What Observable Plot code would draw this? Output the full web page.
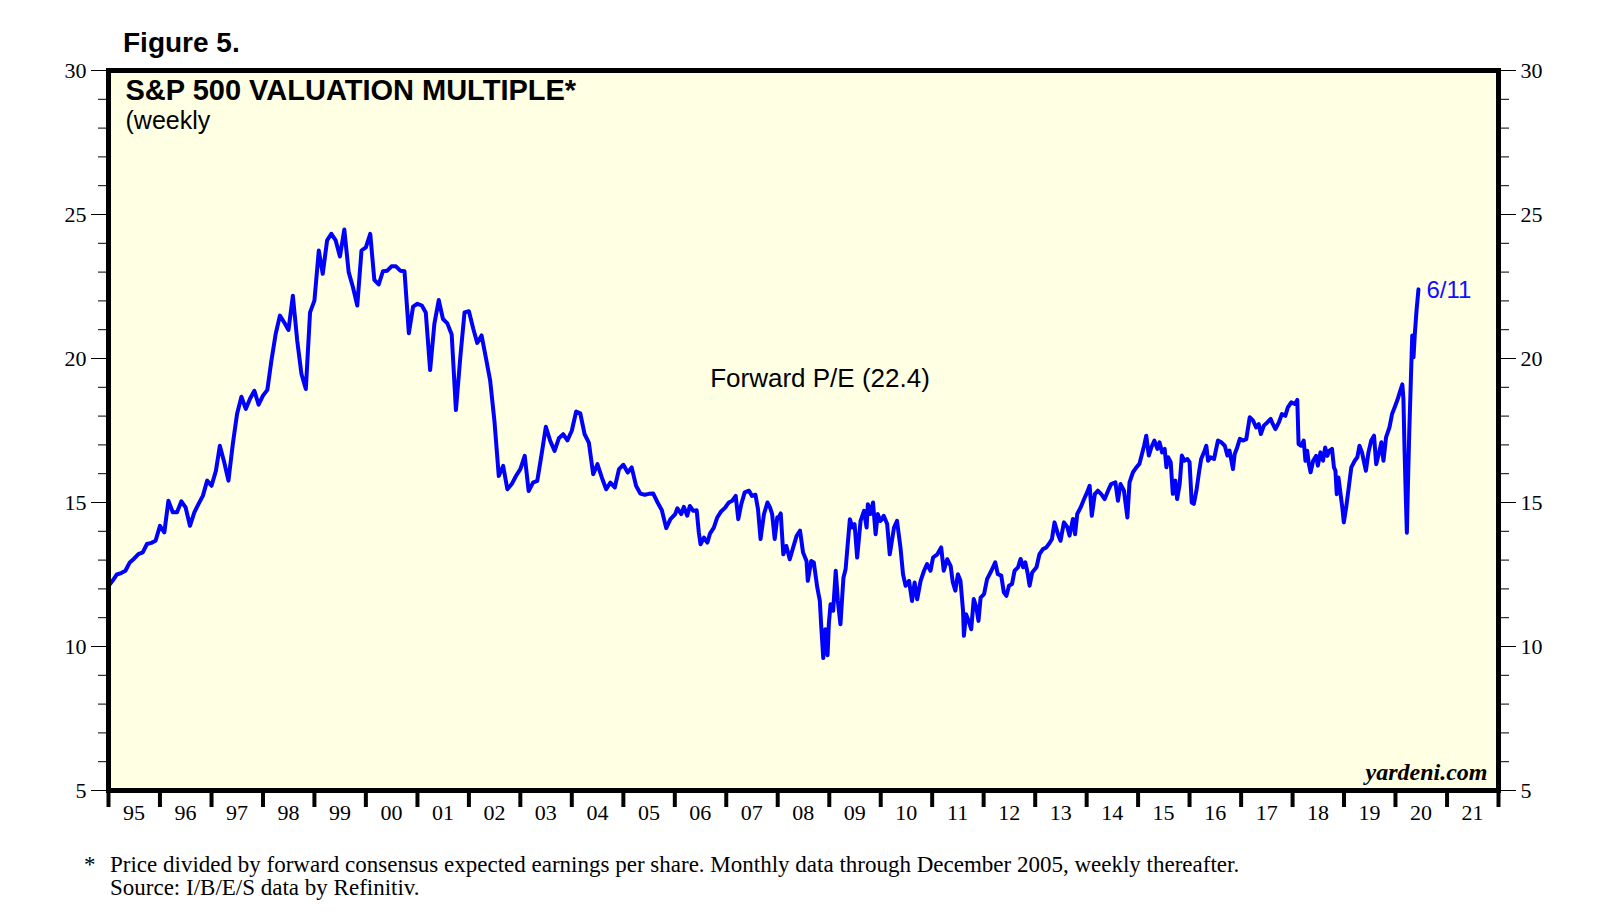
<!DOCTYPE html>
<html><head><meta charset="utf-8">
<script src="https://cdn.jsdelivr.net/npm/d3@7"></script>
<script src="https://cdn.jsdelivr.net/npm/@observablehq/plot@0.6"></script>
<style>
body{margin:0;background:#fff;}
#wrap{position:relative;width:1615px;height:920px;overflow:hidden;}
#fig{position:absolute;left:123px;top:27px;font:bold 28px "Liberation Sans",Arial,sans-serif;line-height:32px;color:#000;}
#chart{position:absolute;left:0;top:60px;}
#note{position:absolute;left:84px;top:853px;font:23px "Liberation Serif","Times New Roman",serif;line-height:23px;color:#000;}
#note .star{position:absolute;left:0;top:0;}
#note .body{padding-left:26px;white-space:nowrap;}
</style></head>
<body><div id="wrap">
<div id="fig">Figure 5.</div>
<div id="chart"></div>
<div id="note"><span class="star">*</span><div class="body">Price divided by forward consensus expected earnings per share. Monthly data through December 2005, weekly thereafter.<br>Source: I/B/E/S data by Refinitiv.</div></div>
</div>
<script>
// ---- Data: monthly forward P/E, Jan 1995 – Dec 2005 ----
const monthly1995 = [12.1,12.3,12.5,12.55,12.63,12.92,13.05,13.21,13.27,13.56,13.6,13.67];
const monthly1996 = [14.19,13.96,15.06,14.66,14.66,15.04,14.83,14.19,14.66,14.95,15.24,15.76];
const monthly1997 = [15.58,16.1,16.97,16.4,15.76,17.03,18.07,18.67,18.25,18.6,18.88,18.4];
const monthly1998 = [18.71,18.91,19.9,20.85,21.49,21.25,20.99,22.18,20.62,19.46,18.94,21.6];
const monthly1999 = [22.01,23.75,22.94,24.1,24.33,24.1,23.54,24.48,23.0,22.48,21.84,23.75];
const monthly2000 = [23.86,24.33,22.73,22.57,23.03,23.05,23.2,23.2,23.05,23.03,20.88,21.8];
const monthly2001 = [21.9,21.84,21.6,19.6,21.2,22.03,21.37,21.22,20.83,18.21,20.04,21.6];
const monthly2002 = [21.64,21.03,20.54,20.8,20.04,19.23,17.84,15.92,16.27,15.46,15.64,15.92];
const monthly2003 = [16.16,16.62,15.4,15.69,15.75,16.68,17.63,17.14,16.79,17.23,17.37,17.16];
const monthly2004 = [17.49,18.16,18.1,17.37,17.08,15.98,16.33,15.87,15.46,15.69,15.52,16.16];
const monthly2005 = [16.31,16.04,16.22,15.58,15.31,15.27,15.3,15.31,15.0,14.73,14.11,14.42];

// ---- Data: weekly readings from 2006, [months into year, P/E] ----
const weekly2006 = [[0.1,14.6],[0.6,14.8],[1.5,14.6],[2.1,14.85],[2.9,14.54],[3.5,14.88],[4.3,14.71],[5.1,14.73],[5.6,13.96],[6.0,13.55],[6.8,13.78],[7.6,13.61],[8.2,13.92],[9.1,14.13],[9.9,14.48],[10.8,14.69],[11.8,14.83]];
const weekly2007 = [[0.1,14.9],[0.6,15.0],[1.4,15.06],[2.2,15.23],[2.8,14.42],[3.5,14.94],[4.3,15.35],[5.3,15.41],[6.0,15.23],[6.8,15.27],[7.4,14.77],[8.0,13.73],[8.8,14.6],[9.6,15.0],[10.2,14.83],[10.7,14.6],[11.3,13.73],[11.9,14.48]];
const weekly2008 = [[0.3,14.5],[0.7,14.62],[1.3,13.2],[2.0,13.49],[2.8,13.03],[3.6,13.44],[4.4,13.84],[5.2,14.02],[5.9,13.26],[6.7,12.97],[7.0,12.28],[7.8,12.97],[8.4,12.92],[9.2,12.05],[9.8,11.58],[10.1,10.77],[10.6,9.6],[11.1,10.6],[11.6,9.7],[11.9,10.8]];
const weekly2009 = [[0.3,11.47],[0.9,11.24],[1.5,12.63],[2.0,11.58],[2.6,10.77],[3.3,12.39],[3.8,12.68],[4.2,13.38],[4.8,14.42],[5.4,14.13],[5.9,14.25],[6.5,13.09],[7.3,14.36],[8.1,14.71],[8.7,14.13],[9.0,14.94],[9.6,14.6],[10.2,15.0],[10.8,13.9],[11.3,14.6],[11.9,14.36]];
const weekly2010 = [[0.2,14.4],[0.7,14.54],[1.5,14.25],[2.1,13.2],[3.1,14.13],[3.8,14.36],[4.6,13.44],[5.2,12.51],[5.8,12.11],[6.6,12.28],[7.3,11.58],[7.9,12.22],[8.5,11.64],[9.3,12.28],[10.1,12.63],[10.8,12.86],[11.6,12.63]];
const weekly2011 = [[0.2,13.09],[1.2,13.2],[2.1,13.44],[2.7,12.63],[3.5,13.03],[4.3,12.8],[4.8,12.23],[5.4,11.94],[6.0,12.51],[6.6,12.28],[7.2,11.24],[7.4,10.37],[7.9,11.12],[8.5,10.89],[9.1,10.6],[9.7,11.65],[10.3,11.36],[10.8,10.89],[11.3,11.7]];
const weekly2012 = [[0.1,11.82],[0.8,12.34],[1.8,12.63],[2.7,12.92],[3.3,12.51],[4.1,12.46],[4.7,11.88],[5.3,11.76],[5.9,12.11],[6.6,12.17],[7.2,12.63],[8.0,12.75],[8.6,13.04],[9.2,12.75],[9.7,12.92],[10.2,12.57],[10.7,12.11],[11.3,12.57]];
const weekly2013 = [[0.3,12.75],[1.0,13.21],[1.8,13.38],[2.6,13.44],[3.4,13.61],[3.9,13.73],[4.5,14.31],[5.3,13.9],[5.9,13.67],[6.7,14.31],[7.5,14.14],[8.0,13.85],[8.8,14.43],[9.3,13.9],[9.8,14.6],[10.6,14.83],[11.4,15.12]];
const weekly2014 = [[0.1,15.35],[0.7,15.58],[1.2,14.54],[1.9,15.29],[2.6,15.41],[3.4,15.29],[4.2,15.12],[5.0,15.41],[5.7,15.64],[6.7,15.7],[7.3,15.06],[7.9,15.64],[8.7,15.41],[9.5,14.48],[10.0,15.7],[10.8,16.05],[11.6,16.22]];
const weekly2015 = [[0.3,16.34],[0.9,16.68],[1.4,16.97],[1.9,17.32],[2.5,16.63],[3.1,16.92],[3.8,17.15],[4.5,16.86],[5.0,17.09],[5.6,16.74],[6.2,16.86],[6.6,16.22],[7.0,16.57],[7.6,16.4],[8.1,15.3],[8.7,15.76],[9.1,15.12],[9.7,15.64],[10.2,16.63],[10.8,16.45],[11.5,16.51]];
const weekly2016 = [[0.0,16.4],[0.5,15.0],[1.0,14.95],[1.6,15.41],[2.2,16.05],[2.7,16.51],[3.5,16.8],[3.9,16.97],[4.3,16.45],[4.9,16.57],[5.7,16.51],[6.6,17.15],[7.4,17.09],[8.2,16.97],[8.8,16.63],[9.3,16.8],[10.1,16.16],[10.5,16.68],[11.1,16.92],[11.7,17.21]];
const weekly2017 = [[0.4,17.15],[1.2,17.2],[2.0,17.96],[2.8,17.84],[3.5,17.61],[4.1,17.72],[4.6,17.38],[5.3,17.67],[6.1,17.78],[6.9,17.9],[7.4,17.72],[8.0,17.55],[8.8,17.78],[9.5,18.07],[10.3,18.01],[10.9,18.3],[11.7,18.48]];
const weekly2018 = [[0.5,18.42],[1.1,18.56],[1.4,17.03],[2.0,16.97],[2.6,17.15],[3.0,16.45],[3.4,16.8],[3.8,16.33],[4.2,16.05],[4.8,16.45],[5.5,16.62],[5.9,16.28],[6.5,16.74],[7.1,16.45],[7.6,16.91],[8.1,16.62],[8.6,16.8],[9.2,16.86],[9.65,16.22],[10.0,16.1],[10.3,15.29],[10.7,15.87],[11.2,15.29],[11.6,14.83],[11.95,14.31]];
const weekly2019 = [[0.5,14.83],[1.1,15.52],[1.7,16.22],[2.5,16.45],[3.1,16.57],[3.6,16.97],[4.2,16.74],[4.6,16.45],[5.1,16.1],[5.7,16.74],[6.35,17.15],[7.0,17.32],[7.5,16.33],[8.1,16.68],[8.7,17.09],[9.2,16.45],[9.8,17.26],[10.6,17.61],[11.2,18.07],[11.8,18.3]];
const weekly2020 = [[0.4,18.54],[1.0,18.82],[1.6,19.1],[1.85,18.6],[2.1,16.9],[2.4,15.2],[2.65,13.95],[2.9,15.6],[3.2,17.4],[3.6,19.35],[3.9,20.8],[4.2,20.04],[4.5,20.85],[4.9,21.67],[5.35,22.4]];

// ---- Text & tick labels ----
const yearLabels = ["95","96","97","98","99","00","01","02","03","04","05","06","07","08","09","10","11","12","13","14","15","16","17","18","19","20","21"];
const majorTicks = [5,10,15,20,25,30];
const chartTitle = "S&P 500 VALUATION MULTIPLE*";
const chartSubtitle = "(weekly";
const seriesLabel = "Forward P/E (22.4)";
const seriesLabelAt = {date: "2008-10-27", pe: 19.3};
const lastLabel = "6/11";
const sourceMark = "yardeni.com";

// ---- Build table ----
const monthlyYears = [monthly1995,monthly1996,monthly1997,monthly1998,monthly1999,monthly2000,monthly2001,monthly2002,monthly2003,monthly2004,monthly2005];
const weeklyYears = [weekly2006,weekly2007,weekly2008,weekly2009,weekly2010,weekly2011,weekly2012,weekly2013,weekly2014,weekly2015,weekly2016,weekly2017,weekly2018,weekly2019,weekly2020];
const data = [];
monthlyYears.forEach((arr, k) => arr.forEach((v, m) => data.push({date: new Date(Date.UTC(1995 + k, m, 1)), pe: v})));
weeklyYears.forEach((arr, k) => {
  const y = 2006 + k, t0 = Date.UTC(y, 0, 1), t1 = Date.UTC(y + 1, 0, 1);
  arr.forEach(([mo, v]) => data.push({date: new Date(t0 + (t1 - t0) * mo / 12), pe: v}));
});
const last = data[data.length - 1];

const firstYear = 1995, lastYear = 2021;
const yearStarts = d3.range(firstYear, lastYear + 2).map(y => new Date(Date.UTC(y, 0, 1)));
const yearMids = d3.range(firstYear, lastYear + 1).map(y => new Date(Date.UTC(y, 6, 1)));
const minorTicks = d3.range(5, 31);

const serif = "Liberation Serif, Times New Roman, serif";
const sans = "Liberation Sans, Arial, sans-serif";

const chart = Plot.plot({
  width: 1615, height: 770,
  marginLeft: 108, marginRight: 117, marginTop: 10, marginBottom: 40,
  style: {fontFamily: serif, fontSize: "22px", background: "transparent", color: "#000", overflow: "visible"},
  x: {type: "utc", domain: [yearStarts[0], yearStarts[yearStarts.length - 1]], label: null},
  y: {domain: [5, 30], label: null},
  marks: [
    Plot.frame({fill: "#ffffe3"}),
    Plot.axisY(minorTicks, {anchor: "left", tickSize: 10, tickFormat: () => "", label: null}),
    Plot.axisY(majorTicks, {anchor: "left", tickSize: 17, tickPadding: 5, fontSize: 22, label: null}),
    Plot.axisY(minorTicks, {anchor: "right", tickSize: 10, tickFormat: () => "", label: null}),
    Plot.axisY(majorTicks, {anchor: "right", tickSize: 17, tickPadding: 5, fontSize: 22, label: null}),
    Plot.axisX(yearStarts, {anchor: "bottom", tickSize: 17, strokeWidth: 4, tickFormat: () => "", label: null}),
    Plot.axisX(yearMids, {anchor: "bottom", tickSize: 0, tickPadding: 14, fontSize: 22, tickFormat: d => yearLabels[d.getUTCFullYear() - firstYear], label: null}),
    Plot.line(data, {x: "date", y: "pe", stroke: "#0000ff", strokeWidth: 4, strokeLinejoin: "round"}),
    Plot.frame({stroke: "#000", strokeWidth: 5}),
    Plot.text([chartTitle], {frameAnchor: "top-left", dx: 17, dy: 9, textAnchor: "start", lineAnchor: "top", fontFamily: sans, fontWeight: "bold", fontSize: 29, fill: "#000"}),
    Plot.text([chartSubtitle], {frameAnchor: "top-left", dx: 17, dy: 41, textAnchor: "start", lineAnchor: "top", fontFamily: sans, fontSize: 25, fill: "#000"}),
    Plot.text([seriesLabelAt], {x: d => new Date(d.date), y: "pe", text: () => seriesLabel, textAnchor: "middle", lineAnchor: "middle", fontFamily: sans, fontSize: 26, fill: "#000"}),
    Plot.text([last], {x: "date", y: "pe", text: () => lastLabel, dx: 8, dy: 1, textAnchor: "start", lineAnchor: "middle", fontFamily: sans, fontSize: 24, fill: "#1010ff"}),
    Plot.text([sourceMark], {frameAnchor: "bottom-right", dx: -11, dy: -11, textAnchor: "end", lineAnchor: "bottom", fontFamily: serif, fontStyle: "italic", fontWeight: "bold", fontSize: 24, fill: "#000"})
  ]
});
document.getElementById("chart").appendChild(chart);
</script>
</body></html>
